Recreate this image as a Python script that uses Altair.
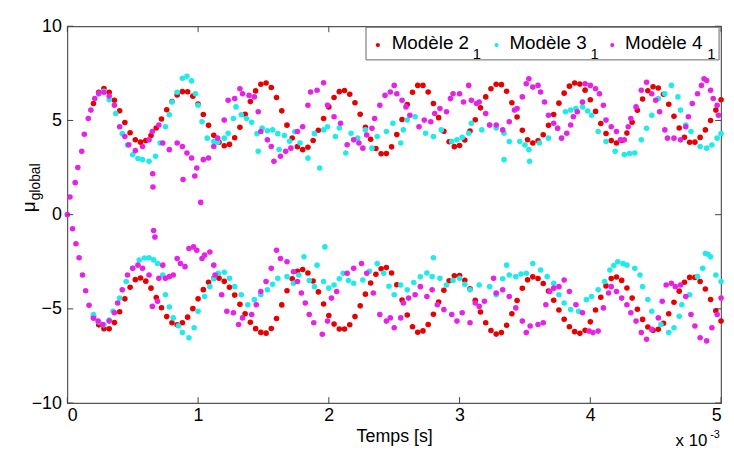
import altair as alt
import pandas as pd

# ---------------- data (time in units of 1e-3 s) ----------------
red_t = [0.20,0.24,0.28,0.32,0.36,0.40,0.44,0.48,0.52,0.56,0.60,0.64,0.68,0.72,0.76,
         0.80,0.84,0.88,0.92,0.96,1.00,1.04,1.08,1.12,1.16,1.20,1.24,1.28,1.32,1.36,1.40,1.44,1.48,1.52,1.56,
         1.60,1.64,1.68,1.72,1.76,1.80,1.84,1.88,1.92,1.96,2.00,2.04,2.08,2.12,2.16,2.20,2.24,2.28,2.32,2.36,
         2.40,2.44,2.48,2.52,2.56,2.60,2.64,2.68,2.72,2.76,2.80,2.84,2.88,2.92,2.96,3.00,3.04,3.08,3.12,3.16,
         3.20,3.24,3.28,3.32,3.36,3.40,3.44,3.48,3.52,3.56,3.60,3.64,3.68,3.72,3.76,3.80,3.84,3.88,3.92,3.96,
         4.00,4.04,4.08,4.12,4.16,4.20,4.24,4.28,4.32,4.36,4.40,4.44,4.48,4.52,4.56,4.60,4.64,4.68,4.72,4.76,
         4.80,4.84,4.88,4.92,4.96,5.00]
red_up = [5.9,6.5,6.69,6.50,6.07,5.51,4.89,4.35,3.98,3.85,3.94,4.20,4.60,5.08,5.57,
          6.01,6.35,6.53,6.52,6.29,5.87,5.32,4.74,4.21,3.84,3.66,3.73,4.08,4.64,5.33,6.00,6.57,6.92,6.99,6.75,
          6.22,5.51,4.75,4.07,3.61,3.45,3.58,3.94,4.48,5.10,5.72,6.22,6.53,6.59,6.39,5.94,5.33,4.64,4.00,3.51,
          3.23,3.24,3.60,4.25,5.05,5.85,6.50,6.86,6.86,6.51,5.90,5.15,4.43,3.87,3.61,3.67,3.96,4.44,5.04,5.67,
          6.25,6.68,6.92,6.90,6.55,5.94,5.18,4.48,3.98,3.80,3.92,4.24,4.74,5.32,5.92,6.45,6.82,6.99,6.93,6.61,
          6.10,5.48,4.84,4.31,3.93,3.80,3.94,4.33,4.90,5.54,6.14,6.58,6.79,6.72,6.39,5.86,5.22,4.60,4.11,3.84,
          3.85,4.10,4.50,5.00,5.55,6.10]
red_lo = [-5.4,-5.85,-6.05,-6.06,-5.73,-5.15,-4.47,-3.85,-3.45,-3.36,-3.53,-3.90,-4.40,-4.94,-5.41,
          -5.74,-5.85,-5.74,-5.44,-4.99,-4.47,-3.98,-3.59,-3.38,-3.37,-3.54,-3.85,-4.27,-4.76,-5.26,-5.71,-6.05,-6.25,-6.29,-6.04,
          -5.51,-4.79,-4.04,-3.40,-3.00,-2.91,-3.10,-3.52,-4.10,-4.74,-5.35,-5.81,-6.07,-6.07,-5.84,-5.41,-4.84,-4.22,-3.63,-3.16,
          -2.87,-2.81,-3.10,-3.72,-4.53,-5.33,-5.95,-6.24,-6.17,-5.83,-5.29,-4.64,-4.01,-3.51,-3.24,-3.23,-3.48,-3.94,-4.54,-5.17,
          -5.74,-6.15,-6.34,-6.26,-5.87,-5.26,-4.56,-3.91,-3.46,-3.30,-3.39,-3.65,-4.05,-4.54,-5.06,-5.55,-5.95,-6.21,-6.30,-6.14,
          -5.69,-5.06,-4.38,-3.78,-3.39,-3.31,-3.49,-3.89,-4.43,-5.02,-5.56,-5.96,-6.14,-6.08,-5.76,-5.26,-4.65,-4.06,-3.59,-3.33,
          -3.33,-3.55,-3.95,-4.50,-5.10,-5.65]

cyan_up_t = [0.24,0.28,0.32,0.37,0.42,0.46,0.50,0.54,0.575,0.625,0.675,0.71,0.75,0.78,
             0.80,0.84,0.88,0.915,0.95,0.98,1.00,1.03,1.07,1.12,1.15,1.20,1.23,1.27,1.29,1.33,1.37,1.41,1.45,1.46,
             1.49,1.53,1.57,1.61,1.62,1.66,1.70,1.74,1.78,1.84,1.89,1.93,1.96,1.99,2.05,2.08,2.13,2.17,2.22,2.28,
             2.33,2.37,2.44,2.49,2.55,2.57,2.60,2.66,2.74,2.80,2.86,2.94,2.98,3.02,3.07,3.09,3.17,3.23,3.28,3.34,
             3.34,3.38,3.46,3.50,3.53,3.535,3.61,3.68,3.75,3.81,3.85,3.89,3.94,3.98,4.01,4.06,4.12,4.19,4.26,4.30,
             4.34,4.39,4.43,4.47,4.52,4.57,4.62,4.67,4.69,4.73,4.77,4.84,4.89,4.93,4.97,5.00]
cyan_up = [6.4,6.55,6.1,5.37,4.3,3.7,3.18,2.98,2.92,2.83,3.1,3.8,4.67,5.3,
           5.98,6.5,7.24,7.35,7.1,6.42,5.81,4.93,4.06,3.88,3.85,4.06,4.32,5.1,5.72,5.3,5.1,4.9,4.3,3.36,
           4.6,4.45,4.5,4.3,3.46,4.2,3.9,4.4,3.8,3.0,4.3,2.48,4.5,4.67,4.15,4.6,3.27,4.32,4.06,4.5,
           3.53,4.15,4.41,4.85,3.8,4.5,5.02,5.2,4.32,4.15,4.5,3.88,3.97,4.1,4.32,4.85,4.5,4.76,4.6,4.32,
           2.92,3.88,3.88,3.7,3.45,2.83,3.8,4.06,4.58,5.46,5.55,5.63,5.72,5.5,5.28,4.41,3.88,3.36,3.19,3.25,
           3.27,3.97,4.58,5.28,6.16,6.42,6.86,6.25,5.55,4.76,4.41,3.62,3.53,3.7,4.06,4.3]

cyan_lo_t = [0.20,0.24,0.28,0.32,0.35,0.40,0.45,0.50,0.55,0.59,0.625,0.66,0.69,0.73,0.75,
             0.78,0.81,0.85,0.88,0.93,0.97,1.00,1.05,1.09,1.12,1.155,1.20,1.24,1.28,1.33,1.38,1.43,1.48,1.53,1.57,
             1.61,1.68,1.73,1.77,1.81,1.85,1.89,1.91,1.96,1.97,2.00,2.04,2.08,2.11,2.15,2.19,2.26,2.31,2.37,2.42,
             2.46,2.50,2.55,2.60,2.65,2.70,2.75,2.79,2.80,2.85,2.90,2.95,3.00,3.04,3.08,3.15,3.23,3.28,3.33,3.36,
             3.38,3.43,3.47,3.51,3.56,3.62,3.67,3.72,3.76,3.80,3.85,3.91,3.97,4.01,4.06,4.11,4.15,4.18,4.21,4.25,
             4.28,4.34,4.38,4.40,4.44,4.47,4.54,4.60,4.64,4.68,4.70,4.76,4.82,4.86,4.88,4.90,4.92,4.96,5.00]
cyan_lo = [-5.3,-5.7,-5.85,-5.6,-5.13,-4.43,-3.55,-2.85,-2.41,-2.3,-2.29,-2.4,-2.59,-3.2,-4.25,
           -4.9,-5.48,-5.9,-6.26,-6.53,-6.0,-5.13,-4.34,-3.82,-3.4,-3.11,-3.06,-3.38,-3.82,-4.25,-4.78,-4.51,-4.25,-3.99,-3.7,
           -3.38,-3.29,-3.64,-3.2,-2.24,-3.5,-3.82,-2.68,-3.55,-1.71,-3.9,-3.73,-3.4,-3.11,-3.5,-3.64,-3.47,-3.0,-2.59,-3.11,
           -3.8,-4.25,-3.73,-3.99,-3.6,-3.3,-3.1,-3.29,-2.29,-3.38,-3.73,-3.5,-3.38,-3.7,-3.99,-3.73,-3.82,-4.25,-3.4,-2.68,
           -3.2,-3.29,-3.15,-3.11,-2.59,-2.94,-3.29,-3.64,-4.25,-4.69,-5.04,-5.13,-4.51,-4.34,-3.99,-3.55,-2.94,-2.7,-2.5,-2.6,
           -2.68,-2.85,-3.2,-3.82,-4.5,-5.13,-5.83,-6.26,-6.0,-5.39,-4.78,-4.25,-3.29,-2.85,-2.06,-2.1,-2.24,-3.2,-3.55]

mag_up_t = [0.0,0.02,0.06,0.08,0.11,0.13,0.16,0.18,0.21,0.24,0.28,0.32,0.36,0.40,0.44,0.47,0.52,0.575,0.625,0.65,
            0.653,0.655,0.70,0.73,0.78,0.84,0.88,0.885,0.915,0.95,0.99,0.975,1.02,1.04,1.08,1.12,1.15,1.20,1.23,1.28,
            1.32,1.34,1.39,1.43,1.46,1.48,1.53,1.56,1.58,1.63,1.67,1.71,1.76,1.80,1.84,1.86,1.91,1.96,1.99,2.04,
            2.09,2.14,2.19,2.23,2.26,2.29,2.33,2.35,2.39,2.43,2.47,2.50,2.52,2.56,2.59,2.62,2.69,2.73,2.78,2.81,
            2.85,2.90,2.93,2.95,3.00,3.03,3.07,3.09,3.13,3.15,3.20,3.23,3.28,3.33,3.38,3.42,3.44,3.48,3.51,3.53,
            3.56,3.60,3.62,3.65,3.68,3.72,3.75,3.78,3.82,3.85,3.87,3.90,3.94,3.96,4.00,4.04,4.07,4.10,4.12,4.16,
            4.20,4.23,4.26,4.29,4.31,4.35,4.39,4.43,4.47,4.50,4.53,4.57,4.59,4.64,4.69,4.73,4.75,4.78,4.82,4.85,
            4.87,4.89,4.92,4.94,4.97,4.98]
mag_up = [0.0,0.94,1.7,2.5,3.36,4.27,5.1,5.55,6.16,6.45,6.5,6.3,5.81,4.67,4.15,3.71,3.4,3.62,3.97,4.41,
          2.17,1.47,4.76,3.8,3.45,3.8,3.62,1.87,3.27,3.01,2.48,2.05,0.65,2.92,3.01,3.62,4.06,5.02,6.07,6.16,
          6.68,6.42,6.33,6.25,5.46,4.41,3.97,3.62,2.83,3.1,3.36,3.53,4.41,4.67,5.81,6.51,6.6,7.0,5.81,5.2,
          4.85,3.71,3.97,3.8,3.53,4.23,4.58,5.1,5.81,6.33,6.51,6.86,6.42,6.07,5.72,5.28,4.67,5.02,4.93,5.37,
          5.63,5.46,6.16,6.42,6.42,5.98,6.86,6.07,5.9,5.98,5.37,4.76,4.76,4.5,4.93,5.55,5.63,6.25,6.95,7.21,
          6.77,6.86,6.51,5.98,5.28,4.85,4.58,4.06,4.32,4.76,5.2,5.46,5.98,6.95,6.86,6.68,6.42,5.81,5.02,4.67,
          4.41,3.97,3.97,4.67,5.1,5.72,6.6,7.03,6.42,6.07,5.46,4.5,4.06,4.06,3.97,4.67,5.2,5.9,6.42,6.86,
          7.21,7.12,6.6,6.16,5.81,5.28]

mag_lo_t = [0.04,0.066,0.09,0.116,0.14,0.166,0.20,0.235,0.27,0.32,0.36,0.385,0.42,0.46,0.50,0.54,0.575,0.625,0.65,
            0.66,0.67,0.69,0.70,0.73,0.75,0.78,0.81,0.84,0.865,0.90,0.93,0.965,0.99,1.03,1.05,1.09,1.12,1.13,1.18,
            1.22,1.27,1.31,1.34,1.41,1.445,1.48,1.52,1.56,1.60,1.63,1.68,1.73,1.76,1.79,1.82,1.85,1.885,1.95,1.99,
            2.02,2.06,2.14,2.19,2.25,2.29,2.34,2.39,2.44,2.47,2.50,2.55,2.57,2.61,2.66,2.70,2.75,2.79,2.83,2.88,
            2.94,2.98,3.02,3.08,3.12,3.15,3.19,3.26,3.28,3.33,3.38,3.43,3.48,3.51,3.54,3.60,3.64,3.66,3.69,3.72,
            3.76,3.80,3.84,3.89,3.94,3.99,4.02,4.06,4.10,4.14,4.16,4.20,4.24,4.28,4.31,4.35,4.39,4.43,4.47,4.52,
            4.55,4.58,4.62,4.65,4.69,4.73,4.77,4.80,4.84,4.89,4.93,4.97,5.00]
mag_lo = [-0.75,-1.54,-2.29,-3.2,-4.04,-4.81,-5.5,-5.65,-5.83,-5.65,-5.21,-4.69,-3.99,-3.2,-2.85,-2.68,-2.85,-3.2,-4.87,
          -0.84,-1.19,-4.6,-3.38,-2.68,-3.38,-3.29,-3.2,-2.33,-2.59,-2.76,-1.8,-1.71,-1.89,-2.33,-2.15,-1.98,-2.68,-3.2,-4.25,
          -5.13,-5.21,-5.83,-5.48,-5.3,-4.78,-4.08,-3.55,-2.85,-1.89,-2.33,-2.5,-3.03,-3.55,-4.16,-4.69,-5.3,-5.74,-6.35,-5.65,
          -4.43,-4.08,-3.11,-2.85,-2.59,-3.11,-4.16,-5.3,-5.65,-5.48,-6.0,-5.48,-4.69,-4.43,-4.25,-3.82,-4.34,-3.99,-4.78,-5.04,
          -5.3,-5.65,-5.21,-5.74,-4.69,-4.87,-4.6,-3.38,-4.16,-3.99,-4.34,-4.95,-5.65,-6.26,-5.91,-5.83,-5.74,-4.78,-4.08,-3.9,
          -3.82,-3.47,-4.08,-4.78,-5.21,-6.18,-6.26,-6.18,-4.95,-4.16,-3.82,-4.08,-4.43,-4.78,-5.21,-5.65,-6.26,-6.61,-6.09,-5.48,
          -4.6,-3.73,-3.64,-3.82,-3.73,-4.34,-5.3,-5.91,-6.53,-6.7,-6.0,-5.3,-4.43]

series_names = ["Modèle 2", "Modèle 3", "Modèle 4"]
series_colors = ["#e60000", "#22eaea", "#e622e6"]
x_ticks = [0, 1, 2, 3, 4, 5]
y_ticks = [-10, -5, 0, 5, 10]

# ---------------- build table ----------------
def pairs(ts, vs, name, order):
    if len(ts) != len(vs):
        raise ValueError(f"length mismatch {name}: {len(ts)} vs {len(vs)}")
    return [{"t": a, "v": b, "s": name, "o": order} for a, b in zip(ts, vs)]

rows = []
rows += pairs(red_t, red_up, series_names[0], 0)
rows += pairs(red_t, red_lo, series_names[0], 0)
rows += pairs(cyan_up_t, cyan_up, series_names[1], 1)
rows += pairs(cyan_lo_t, cyan_lo, series_names[1], 1)
rows += pairs(mag_up_t, mag_up, series_names[2], 2)
rows += pairs(mag_lo_t, mag_lo, series_names[2], 2)
df = pd.DataFrame(rows)

W, H = 661, 381
FONT = "Liberation Sans"

xs = alt.Scale(domain=[0, 5], nice=False, zero=False)
ys = alt.Scale(domain=[-10, 10], nice=False, zero=False)

points = alt.Chart(df).mark_circle(size=32, opacity=1).encode(
    x=alt.X("t:Q", scale=xs,
            axis=alt.Axis(values=x_ticks, format="d", title="Temps [s]", domain=False, ticks=False, grid=False,
                          labelFontSize=18, labelColor="black", labelFont=FONT, labelPadding=4,
                          titleFont=FONT, titleFontSize=18, titleFontWeight="normal", titleColor="black",
                          titlePadding=3)),
    y=alt.Y("v:Q", scale=ys,
            axis=alt.Axis(values=y_ticks, format="d", title=None, domain=False, ticks=False, grid=False,
                          labelFontSize=18, labelColor="black", labelFont=FONT, labelPadding=6)),
    color=alt.Color("s:N", scale=alt.Scale(domain=series_names, range=series_colors), legend=None),
    order=alt.Order("o:Q"),
)

xt = pd.DataFrame({"t": x_ticks})
yt = pd.DataFrame({"v": y_ticks})
tick_col = "#444444"
xtick_b = alt.Chart(xt).mark_rule(color=tick_col).encode(x=alt.X("t:Q", scale=xs), y=alt.value(H), y2=alt.value(H - 6))
xtick_t = alt.Chart(xt).mark_rule(color=tick_col).encode(x=alt.X("t:Q", scale=xs), y=alt.value(0), y2=alt.value(6))
ytick_l = alt.Chart(yt).mark_rule(color=tick_col).encode(y=alt.Y("v:Q", scale=ys), x=alt.value(0), x2=alt.value(6))
ytick_r = alt.Chart(yt).mark_rule(color=tick_col).encode(y=alt.Y("v:Q", scale=ys), x=alt.value(W), x2=alt.value(W - 6))

# legend box (MATLAB-style)
leg_box = alt.Chart(pd.DataFrame({"a": [0]})).mark_rect(fill="white", stroke="#666666", strokeWidth=1).encode(
    x=alt.value(302), x2=alt.value(659), y=alt.value(1), y2=alt.value(34))
leg_df = pd.DataFrame({
    "name": series_names,
    "col": series_colors,
    "dx": [314, 434, 551],
    "tx": [328, 447, 564],
    "sx": [410, 529, 647],
})
leg_dots = alt.Chart(leg_df).mark_circle(size=18, opacity=1).encode(
    x=alt.X("dx:Q", scale=None), y=alt.value(19),
    color=alt.Color("col:N", scale=None))
leg_txt = alt.Chart(leg_df).mark_text(align="left", baseline="alphabetic", fontSize=19, font=FONT, color="black").encode(
    x=alt.X("tx:Q", scale=None), y=alt.value(23), text="name:N")
leg_sub = alt.Chart(leg_df).mark_text(align="left", baseline="alphabetic", fontSize=15, font=FONT, color="black").encode(
    x=alt.X("sx:Q", scale=None), y=alt.value(33), text=alt.value("1"))

# y-axis title: mu with subscript "global"
mu = alt.Chart(pd.DataFrame({"a": [0]})).mark_text(angle=270, align="left", baseline="alphabetic",
                                                  fontSize=19, font=FONT, color="black").encode(
    x=alt.value(-33), y=alt.value(188), text=alt.value("μ"))
glob = alt.Chart(pd.DataFrame({"a": [0]})).mark_text(angle=270, align="left", baseline="alphabetic",
                                                    fontSize=14, font=FONT, color="black").encode(
    x=alt.value(-28), y=alt.value(176), text=alt.value("global"))

# exponent label
expo = alt.Chart(pd.DataFrame({"a": [0]})).mark_text(align="left", baseline="alphabetic",
                                                    fontSize=17, font=FONT, color="black").encode(
    x=alt.value(615), y=alt.value(424), text=alt.value("x 10"))
expo2 = alt.Chart(pd.DataFrame({"a": [0]})).mark_text(align="left", baseline="alphabetic",
                                                     fontSize=11, font=FONT, color="black").encode(
    x=alt.value(650), y=alt.value(416), text=alt.value("-3"))

chart = alt.layer(points, xtick_b, xtick_t, ytick_l, ytick_r, leg_box, leg_dots, leg_txt, leg_sub,
                  mu, glob, expo, expo2).properties(
    width=W, height=H,
    autosize=alt.AutoSizeParams(type="none"),
    padding={"left": 60, "top": 16, "right": 5, "bottom": 45},
    background="white",
).configure_view(stroke="#555555", strokeWidth=1.2)

chart.save("out.html", embed_options={"renderer": "svg", "actions": False})
